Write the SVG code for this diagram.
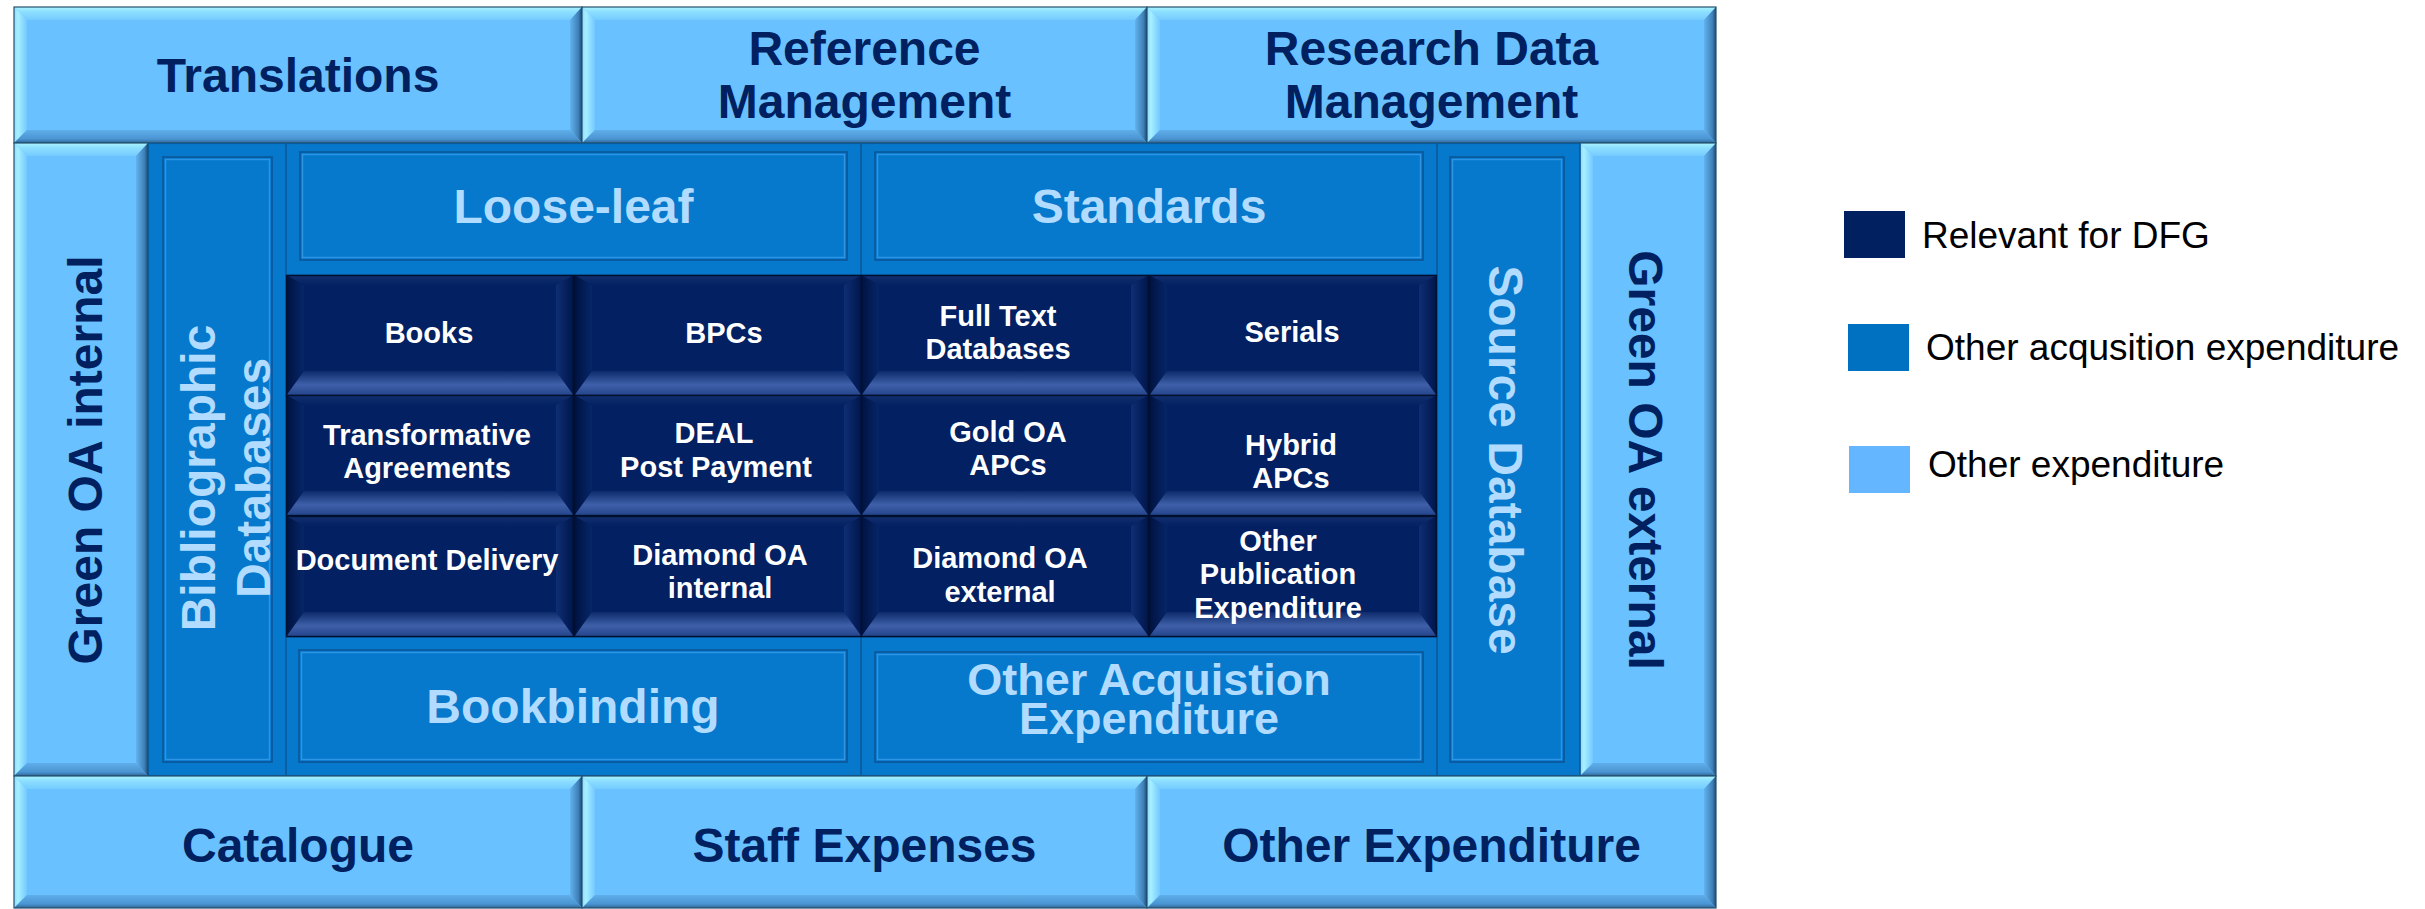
<svg xmlns="http://www.w3.org/2000/svg" xmlns:xlink="http://www.w3.org/1999/xlink" width="2425" height="909" viewBox="0 0 2425 909">
  <style>
    .big { font-family: "Liberation Sans", Arial, sans-serif; font-weight: bold; font-size: 48px; text-anchor: middle; }
    .mid { font-size: 45px; }
    .navy { fill: #002060; }
    .pale { fill: #B2DCFF; }
    .cell-txt { font-family: "Liberation Sans", Arial, sans-serif; font-weight: bold; font-size: 29px; fill: #FFFFFF; text-anchor: middle; }
    .leg-txt { font-family: "Liberation Sans", Arial, sans-serif; font-size: 37px; fill: #000000; }
    .lt-face { fill: #6AC1FF; }
    .lt-top { fill: url(#ltTop); }
    .lt-left { fill: url(#ltLeft); }
    .lt-right { fill: url(#ltRight); }
    .lt-bot { fill: url(#ltBot); }
    .lt-edge { fill: none; stroke: #24506F; stroke-width: 1.2; }
    .mid-face { fill: #0779CC; }
    .frame { fill: none; stroke: #0A5B9C; stroke-width: 1.2; }
    .inner-dark { fill: #0779CC; stroke: #0A5697; stroke-width: 1.6; }
    .inner-hi { fill: none; stroke: #2C95E4; stroke-width: 1.4; }
  </style>
  <defs>
    <!-- bevel shading for the light tiles -->
    <linearGradient id="ltTop" x1="0" y1="0" x2="0" y2="1">
      <stop offset="0" stop-color="#A8F4FF"/>
      <stop offset="0.35" stop-color="#8EE0FF"/>
      <stop offset="1" stop-color="#74CBFF"/>
    </linearGradient>
    <linearGradient id="ltLeft" x1="0" y1="0" x2="1" y2="0">
      <stop offset="0" stop-color="#8FD8FF"/>
      <stop offset="0.3" stop-color="#A6F0FF"/>
      <stop offset="1" stop-color="#74C8FF"/>
    </linearGradient>
    <linearGradient id="ltRight" x1="0" y1="0" x2="1" y2="0">
      <stop offset="0" stop-color="#62B3EE"/>
      <stop offset="0.7" stop-color="#3F80B8"/>
      <stop offset="1" stop-color="#1F4A70"/>
    </linearGradient>
    <linearGradient id="ltBot" x1="0" y1="0" x2="0" y2="1">
      <stop offset="0" stop-color="#5FAEEA"/>
      <stop offset="0.7" stop-color="#4A94D2"/>
      <stop offset="1" stop-color="#2F6594"/>
    </linearGradient>
    <!-- bevel shading for the dark cells -->
    <linearGradient id="dkTop" x1="0" y1="0" x2="0" y2="1">
      <stop offset="0" stop-color="#132F70"/>
      <stop offset="1" stop-color="#032262"/>
    </linearGradient>
    <linearGradient id="dkLeft" x1="0" y1="0" x2="1" y2="0">
      <stop offset="0" stop-color="#00123F"/>
      <stop offset="1" stop-color="#062668"/>
    </linearGradient>
    <linearGradient id="dkRight" x1="0" y1="0" x2="1" y2="0">
      <stop offset="0" stop-color="#0E2E74"/>
      <stop offset="1" stop-color="#00154A"/>
    </linearGradient>
    <linearGradient id="dkBot" x1="0" y1="0" x2="0" y2="1">
      <stop offset="0" stop-color="#0D2B6C"/>
      <stop offset="0.55" stop-color="#3F60A8"/>
      <stop offset="1" stop-color="#22428A"/>
    </linearGradient>
    <!-- one dark cell, 288 x 121 -->
    <g id="cell">
      <rect x="0" y="0" width="288" height="121" fill="#022062"/>
      <polygon points="0,0 288,0 270,10 18,10" fill="url(#dkTop)"/>
      <polygon points="0,0 18,10 18,96 0,121" fill="url(#dkLeft)"/>
      <polygon points="288,0 288,121 270,96 270,10" fill="url(#dkRight)"/>
      <polygon points="0,121 18,96 270,96 288,121" fill="url(#dkBot)"/>
      <rect x="0.5" y="0.5" width="287" height="120" fill="none" stroke="#00102E" stroke-width="1.4"/>
    </g>
  </defs>

  <rect x="0" y="0" width="2425" height="909" fill="#FFFFFF"/>

  <!-- medium blue core behind the inner blocks -->
  <rect class="mid-face" x="148" y="143" width="1432" height="633"/>

  <!-- top row -->
  <g id="translations">
    <rect class="lt-face" x="14" y="7" width="568" height="136"/>
    <polygon class="lt-top" points="14,7 582,7 570,20 27,20"/>
    <polygon class="lt-left" points="14,7 27,20 27,130 14,143"/>
    <polygon class="lt-right" points="582,7 582,143 570,130 570,20"/>
    <polygon class="lt-bot" points="14,143 27,130 570,130 582,143"/>
    <rect class="lt-edge" x="14" y="7" width="568" height="136"/>
    <text class="big navy" x="298" y="92">Translations</text>
  </g>
  <g id="reference-management">
    <rect class="lt-face" x="582" y="7" width="565" height="136"/>
    <polygon class="lt-top" points="582,7 1147,7 1135,20 595,20"/>
    <polygon class="lt-left" points="582,7 595,20 595,130 582,143"/>
    <polygon class="lt-right" points="1147,7 1147,143 1135,130 1135,20"/>
    <polygon class="lt-bot" points="582,143 595,130 1135,130 1147,143"/>
    <rect class="lt-edge" x="582" y="7" width="565" height="136"/>
    <text class="big navy" x="864.5" y="65">Reference</text>
    <text class="big navy" x="864.5" y="118">Management</text>
  </g>
  <g id="research-data-management">
    <rect class="lt-face" x="1147" y="7" width="569" height="136"/>
    <polygon class="lt-top" points="1147,7 1716,7 1704,20 1160,20"/>
    <polygon class="lt-left" points="1147,7 1160,20 1160,130 1147,143"/>
    <polygon class="lt-right" points="1716,7 1716,143 1704,130 1704,20"/>
    <polygon class="lt-bot" points="1147,143 1160,130 1704,130 1716,143"/>
    <rect class="lt-edge" x="1147" y="7" width="569" height="136"/>
    <text class="big navy" x="1431.5" y="65">Research Data</text>
    <text class="big navy" x="1431.5" y="118">Management</text>
  </g>

  <!-- side columns -->
  <g id="green-oa-internal">
    <rect class="lt-face" x="14" y="143" width="134" height="633"/>
    <polygon class="lt-top" points="14,143 148,143 136,156 27,156"/>
    <polygon class="lt-left" points="14,143 27,156 27,763 14,776"/>
    <polygon class="lt-right" points="148,143 148,776 136,763 136,156"/>
    <polygon class="lt-bot" points="14,776 27,763 136,763 148,776"/>
    <rect class="lt-edge" x="14" y="143" width="134" height="633"/>
    <text class="big navy" transform="translate(101.5,460) rotate(-90)">Green OA internal</text>
  </g>
  <g id="green-oa-external">
    <rect class="lt-face" x="1580" y="143" width="136" height="633"/>
    <polygon class="lt-top" points="1580,143 1716,143 1704,156 1593,156"/>
    <polygon class="lt-left" points="1580,143 1593,156 1593,763 1580,776"/>
    <polygon class="lt-right" points="1716,143 1716,776 1704,763 1704,156"/>
    <polygon class="lt-bot" points="1580,776 1593,763 1704,763 1716,776"/>
    <rect class="lt-edge" x="1580" y="143" width="136" height="633"/>
    <text class="big navy" transform="translate(1629,460) rotate(90)">Green OA external</text>
  </g>

  <g id="bibliographic-databases">
    <rect class="frame" x="148.5" y="143.5" width="137.5" height="632"/>
    <rect class="inner-dark" x="163" y="157" width="109" height="605"/>
    <rect class="inner-hi" x="165.5" y="159.5" width="104" height="600"/>
    <text class="big pale" transform="translate(215,478) rotate(-90)"><tspan x="0" y="0">Bibliographic</tspan><tspan x="0" y="55">Databases</tspan></text>
  </g>
  <g id="source-database">
    <rect class="frame" x="1437" y="143.5" width="143" height="632"/>
    <rect class="inner-dark" x="1450" y="157" width="114" height="605"/>
    <rect class="inner-hi" x="1452.5" y="159.5" width="109" height="600"/>
    <text class="big pale" transform="translate(1489,460) rotate(90)">Source Database</text>
  </g>

  <!-- framed blocks above and below the grid -->
  <g id="loose-leaf">
    <rect class="frame" x="286" y="143.5" width="575" height="131.5"/>
    <rect class="inner-dark" x="300" y="152" width="547" height="108"/>
    <rect class="inner-hi" x="302.5" y="154.5" width="542" height="103"/>
    <text class="big pale" x="573.5" y="223">Loose-leaf</text>
  </g>
  <g id="standards">
    <rect class="frame" x="861" y="143.5" width="576" height="131.5"/>
    <rect class="inner-dark" x="875" y="152" width="548" height="108"/>
    <rect class="inner-hi" x="877.5" y="154.5" width="543" height="103"/>
    <text class="big pale" x="1149" y="223">Standards</text>
  </g>
  <g id="bookbinding">
    <rect class="frame" x="286" y="637" width="575" height="138.5"/>
    <rect class="inner-dark" x="299" y="650" width="548" height="112"/>
    <rect class="inner-hi" x="301.5" y="652.5" width="543" height="107"/>
    <text class="big pale" x="573" y="723">Bookbinding</text>
  </g>
  <g id="other-acquisition-expenditure">
    <rect class="frame" x="861" y="637" width="576" height="138.5"/>
    <rect class="inner-dark" x="875" y="652" width="548" height="110"/>
    <rect class="inner-hi" x="877.5" y="654.5" width="543" height="105"/>
    <text class="big mid pale" x="1149" y="695">Other Acquistion</text>
    <text class="big mid pale" x="1149" y="734">Expenditure</text>
  </g>

  <!-- dark grid cells -->
  <g id="books"><use xlink:href="#cell" x="286" y="275"/><text class="cell-txt" x="429" y="343">Books</text></g>
  <g id="bpcs"><use xlink:href="#cell" x="574" y="275"/><text class="cell-txt" x="724" y="343">BPCs</text></g>
  <g id="full-text-databases"><use xlink:href="#cell" x="861" y="275"/><text class="cell-txt" x="998" y="326">Full Text</text><text class="cell-txt" x="998" y="359">Databases</text></g>
  <g id="serials"><use xlink:href="#cell" x="1149" y="275"/><text class="cell-txt" x="1292" y="342">Serials</text></g>

  <g id="transformative-agreements"><use xlink:href="#cell" x="286" y="395"/><text class="cell-txt" x="427" y="445">Transformative</text><text class="cell-txt" x="427" y="478">Agreements</text></g>
  <g id="deal-post-payment"><use xlink:href="#cell" x="574" y="395"/><text class="cell-txt" x="714" y="443">DEAL</text><text class="cell-txt" x="716" y="477">Post Payment</text></g>
  <g id="gold-oa-apcs"><use xlink:href="#cell" x="861" y="395"/><text class="cell-txt" x="1008" y="442">Gold OA</text><text class="cell-txt" x="1008" y="475">APCs</text></g>
  <g id="hybrid-apcs"><use xlink:href="#cell" x="1149" y="395"/><text class="cell-txt" x="1291" y="455">Hybrid</text><text class="cell-txt" x="1291" y="488">APCs</text></g>

  <g id="document-delivery"><use xlink:href="#cell" x="286" y="516"/><text class="cell-txt" x="427" y="570">Document Delivery</text></g>
  <g id="diamond-oa-internal"><use xlink:href="#cell" x="574" y="516"/><text class="cell-txt" x="720" y="565">Diamond OA</text><text class="cell-txt" x="720" y="598">internal</text></g>
  <g id="diamond-oa-external"><use xlink:href="#cell" x="861" y="516"/><text class="cell-txt" x="1000" y="568">Diamond OA</text><text class="cell-txt" x="1000" y="602">external</text></g>
  <g id="other-publication-expenditure"><use xlink:href="#cell" x="1149" y="516"/><text class="cell-txt" x="1278" y="551">Other</text><text class="cell-txt" x="1278" y="584">Publication</text><text class="cell-txt" x="1278" y="618">Expenditure</text></g>

  <!-- bottom row -->
  <g id="catalogue">
    <rect class="lt-face" x="14" y="776" width="568" height="132"/>
    <polygon class="lt-top" points="14,776 582,776 570,789 27,789"/>
    <polygon class="lt-left" points="14,776 27,789 27,895 14,908"/>
    <polygon class="lt-right" points="582,776 582,908 570,895 570,789"/>
    <polygon class="lt-bot" points="14,908 27,895 570,895 582,908"/>
    <rect class="lt-edge" x="14" y="776" width="568" height="132"/>
    <text class="big navy" x="298" y="862">Catalogue</text>
  </g>
  <g id="staff-expenses">
    <rect class="lt-face" x="582" y="776" width="565" height="132"/>
    <polygon class="lt-top" points="582,776 1147,776 1135,789 595,789"/>
    <polygon class="lt-left" points="582,776 595,789 595,895 582,908"/>
    <polygon class="lt-right" points="1147,776 1147,908 1135,895 1135,789"/>
    <polygon class="lt-bot" points="582,908 595,895 1135,895 1147,908"/>
    <rect class="lt-edge" x="582" y="776" width="565" height="132"/>
    <text class="big navy" x="864.5" y="862">Staff Expenses</text>
  </g>
  <g id="other-expenditure">
    <rect class="lt-face" x="1147" y="776" width="569" height="132"/>
    <polygon class="lt-top" points="1147,776 1716,776 1704,789 1160,789"/>
    <polygon class="lt-left" points="1147,776 1160,789 1160,895 1147,908"/>
    <polygon class="lt-right" points="1716,776 1716,908 1704,895 1704,789"/>
    <polygon class="lt-bot" points="1147,908 1160,895 1704,895 1716,908"/>
    <rect class="lt-edge" x="1147" y="776" width="569" height="132"/>
    <text class="big navy" x="1431.5" y="862">Other Expenditure</text>
  </g>

  <!-- legend -->
  <g id="legend">
    <rect x="1844" y="211" width="61" height="47" fill="#002060"/>
    <text class="leg-txt" x="1922" y="248">Relevant for DFG</text>
    <rect x="1848" y="324" width="61" height="47" fill="#0070C0"/>
    <text class="leg-txt" x="1926" y="360">Other acqusition expenditure</text>
    <rect x="1849" y="446" width="61" height="47" fill="#63B6FF"/>
    <text class="leg-txt" x="1928" y="477">Other expenditure</text>
  </g>
</svg>
